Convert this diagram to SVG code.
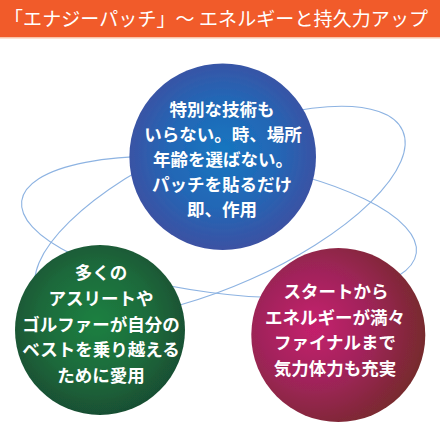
<svg xmlns="http://www.w3.org/2000/svg" width="440" height="440" viewBox="0 0 440 440">
  <defs>
    <radialGradient id="gBlue" cx="50%" cy="48%" r="55%">
      <stop offset="0" stop-color="#1676c0"/>
      <stop offset="0.55" stop-color="#2466b5"/>
      <stop offset="1" stop-color="#3f4ea0"/>
    </radialGradient>
    <radialGradient id="gGreen" cx="48%" cy="45%" r="55%">
      <stop offset="0" stop-color="#1f8041"/>
      <stop offset="0.6" stop-color="#1c6a3b"/>
      <stop offset="1" stop-color="#194f33"/>
    </radialGradient>
    <radialGradient id="gRed" cx="36%" cy="45%" r="65%">
      <stop offset="0" stop-color="#c51f6d"/>
      <stop offset="0.5" stop-color="#a0245a"/>
      <stop offset="1" stop-color="#762a2c"/>
    </radialGradient>
    <filter id="soft" x="-5%" y="-5%" width="110%" height="110%">
      <feGaussianBlur stdDeviation="0.7"/>
    </filter>
  </defs>
  <style>
    .orbit { fill: none; stroke: #8db3e2; stroke-width: 1.1; }
    .lbl { fill: #ffffff; font-family: "Noto Sans CJK JP", "Noto Sans", sans-serif; font-weight: bold; font-size: 17.5px; text-anchor: middle; }
    .title { fill: #ffffff; font-family: "Noto Sans CJK JP", "Noto Sans", sans-serif; font-size: 19px; }
  </style>
  <rect width="440" height="440" fill="#ffffff"/>
  <g id="header">
    <rect x="0" y="0" width="440" height="37" fill="#f15b2a"/>
    <rect x="0" y="37" width="440" height="1.5" fill="#f8c3a9"/>
    <text class="title" x="4" y="26" textLength="424" lengthAdjust="spacing">「エナジーパッチ」～ エネルギーと持久力アップ</text>
  </g>
  <g id="connectors">
    <ellipse class="orbit" cx="219" cy="227" rx="199" ry="66" transform="rotate(7.5 219 227)"/>
    <ellipse class="orbit" cx="220" cy="212" rx="200" ry="74" transform="rotate(-24 220 212)"/>
  </g>
  <g id="node-blue">
    <circle cx="222.7" cy="156.7" r="93.3" fill="url(#gBlue)" filter="url(#soft)"/>
    <text class="lbl" x="222" y="116.4">特別な技術も</text>
    <text class="lbl" x="223" y="141.4">いらない。時、場所</text>
    <text class="lbl" x="223" y="166.4">年齢を選ばない。</text>
    <text class="lbl" x="222" y="191.4">パッチを貼るだけ</text>
    <text class="lbl" x="222" y="216.4">即、作用</text>
  </g>
  <g id="node-green">
    <circle cx="100" cy="330" r="85" fill="url(#gGreen)" filter="url(#soft)"/>
    <text class="lbl" x="101" y="279">多くの</text>
    <text class="lbl" x="101" y="304.8">アスリートや</text>
    <text class="lbl" x="101" y="330.6">ゴルファーが自分の</text>
    <text class="lbl" x="101" y="356.4">ベストを乗り越える</text>
    <text class="lbl" x="101" y="382.2">ために愛用</text>
  </g>
  <g id="node-red">
    <circle cx="338.3" cy="335" r="87" fill="url(#gRed)" filter="url(#soft)"/>
    <text class="lbl" x="336" y="298">スタートから</text>
    <text class="lbl" x="335" y="323.6">エネルギーが満々</text>
    <text class="lbl" x="335" y="349.2">ファイナルまで</text>
    <text class="lbl" x="335" y="374.8">気力体力も充実</text>
  </g>
</svg>
